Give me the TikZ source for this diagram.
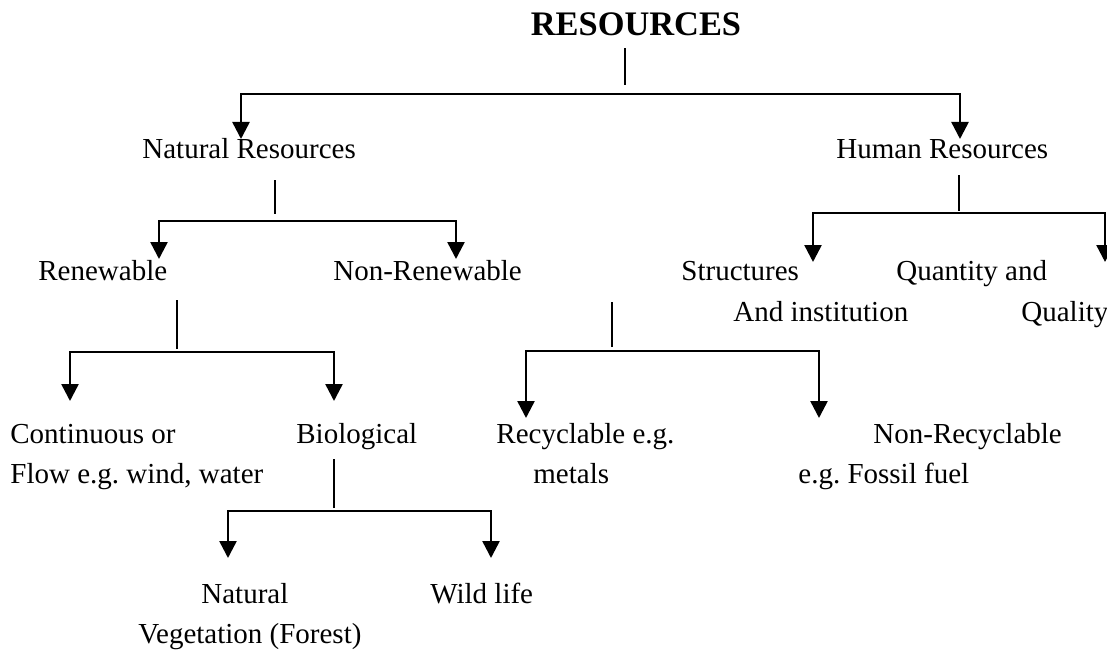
\documentclass[tikz,border=0pt]{standalone}
\usepackage{fontspec}
\setmainfont{Liberation Serif}
\usepackage{tikz}
\usetikzlibrary{arrows.meta,calc}

\begin{document}
\begin{tikzpicture}[x=0.5pt, y=-0.5pt,
    branch/.style={{Triangle[width=8.5pt,length=8.5pt]}-{Triangle[width=8.5pt,length=8.5pt]}, line width=1.25pt},
    stem/.style={line width=0.75pt}]
\tikzstyle{every node}=[inner sep=0pt, anchor=base west, font=\fontsize{14.5}{17}\selectfont\frenchspacing]
\useasboundingbox (0,0) rectangle (1107,652);

% texts
\node[anchor=base, font=\fontsize{17.2}{20}\selectfont\bfseries] (res) at (636,36) {RESOURCES};
\node (natres)    at (142,159) {Natural Resources};
\node (humres)    at (836,159) {Human Resources};
\node (renew)     at (38,280)  {Renewable};
\node (nonrenew)  at (333,280) {Non-Renewable};
\node (struct)    at (681,280) {Structures};
\node (structb)   at (733,321) {And institution};
\node (quant)     at (896,280) {Quantity and};
\node (quantb)    at (1021,321) {Quality};
\node (cont)      at (10,443)  {Continuous or};
\node (contb)     at (10,483)  {Flow e.g. wind, water};
\node (bio)       at (296,443) {Biological};
\node (recyc)     at (496,443) {Recyclable e.g.};
\node (recycb)    at (533,483) {metals};
\node (nonrecyc)  at (873,443) {Non-Recyclable};
\node (nonrecycb) at (798,483) {e.g. Fossil fuel};
\node (natveg)    at (201,603) {Natural};
\node (natvegb)   at (138,643) {Vegetation (Forest)};
\node (wild)      at (430,603) {Wild life};

% joints and arrow ends
\coordinate (resjoin)      at (625,94);
\coordinate (nattip)       at (241,139);
\coordinate (humtip)       at (960,139);
\coordinate (natjoin)      at (275,221);
\coordinate (renewtip)     at (159,259);
\coordinate (nonrenewtip)  at (456,259);
\coordinate (humjoin)      at (959,213);
\coordinate (structtip)    at (813,262);
\coordinate (quanttip)     at (1105,262);
\coordinate (renewjoin)    at (177,352);
\coordinate (conttip)      at (70,401);
\coordinate (biotip)       at (334,401);
\coordinate (nonrenewjoin) at (612,351);
\coordinate (recyctip)     at (526,418);
\coordinate (nonrecyctip)  at (819,418);
\coordinate (biojoin)      at (334,511);
\coordinate (natvegtip)    at (228,558);
\coordinate (wildtip)      at (491,558);

% stems
\draw[stem] (resjoin)      ++(0,-9) -- ++(0,-37);
\draw[stem] (natjoin)      ++(0,-7) -- ++(0,-34);
\draw[stem] (humjoin)      ++(0,-2) -- ++(0,-36);
\draw[stem] (renewjoin)    ++(0,-3) -- ++(0,-49);
\draw[stem] (nonrenewjoin) ++(0,-4) -- ++(0,-45);
\draw[stem] (biojoin)      ++(0,-3) -- ++(0,-49);

% branches
\draw[branch] (nattip)    |- (resjoin)      -| (humtip);
\draw[branch] (renewtip)  |- (natjoin)      -| (nonrenewtip);
\draw[branch] (structtip) |- (humjoin)      -| (quanttip);
\draw[branch] (conttip)   |- (renewjoin)    -| (biotip);
\draw[branch] (recyctip)  |- (nonrenewjoin) -| (nonrecyctip);
\draw[branch] (natvegtip) |- (biojoin)      -| (wildtip);
\end{tikzpicture}
\end{document}
